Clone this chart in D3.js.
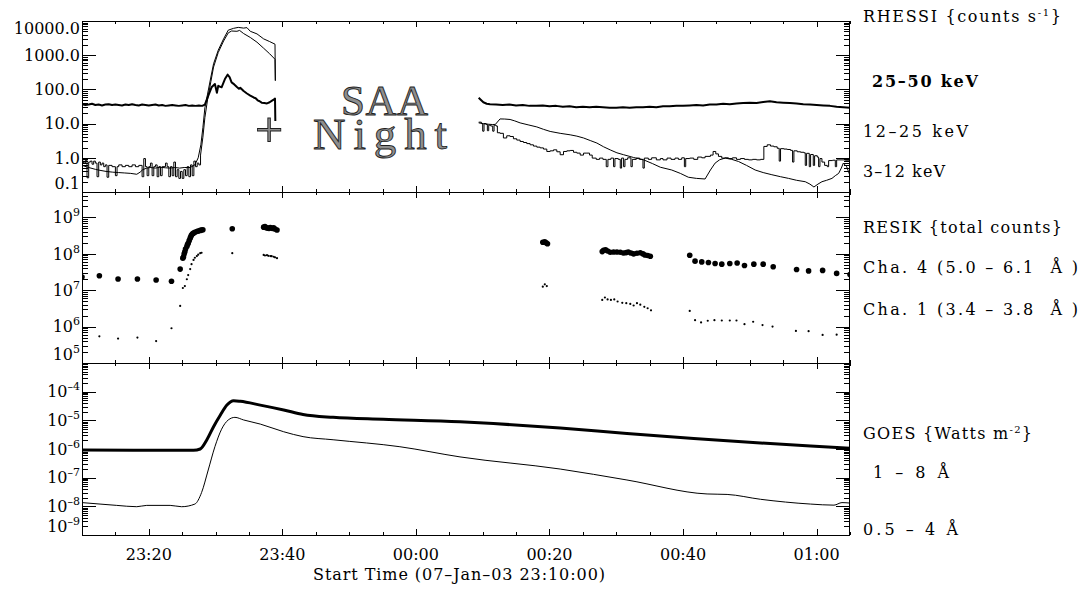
<!DOCTYPE html>
<html>
<head>
<meta charset="utf-8">
<script src="https://cdn.jsdelivr.net/npm/d3@7"></script>
<style>
  html, body { margin: 0; padding: 0; background: #fff; }
  svg { display: block; }
  text { font-family: "DejaVu Serif", serif; fill: #000; white-space: pre; }
  text.outlined { font-family: "Liberation Serif", serif; fill: #8c8c8c; stroke: #1a1a1a;
                  stroke-width: 0.9px; opacity: 0.98; }
</style>
</head>
<body>
<svg id="chart" width="1088" height="590"></svg>
<script>
// ---------------------------------------------------------------
// Data: time is given in minutes after 2003-01-07 23:10:00 UT
// ---------------------------------------------------------------

// RHESSI count rates (counts s^-1), before the SAA / night gap and after it
const rhessi2550Pre = [
  [0,37],[0.5,35],[1,36],[1.5,38],[2,35],[2.5,36],[3,34],[3.5,36],[4,37],[4.5,35],[5,36],[5.5,35],
  [6,34],[6.5,36],[7,35],[7.5,37],[8,35],[8.5,34],[9,36],[9.5,35],[10,34],[10.5,35],[11,36],[11.5,34],
  [12,35],[12.5,33],[13,34],[13.5,35],[14,34],[14.5,33],[15,34],[15.5,35],[16,33],[16.5,34],[17,33],
  [17.5,34],[18,33],[18.4,36],[18.9,65],[19.4,115],[19.9,144],[20.2,80],[20.4,127],[20.9,115],
  [21.4,200],[21.8,270],[22.1,230],[22.4,160],[22.8,140],[23.2,118],[23.5,105],[23.7,112],[24.2,90],
  [24.7,76],[25.2,66],[25.7,58],[26.0,55],[26.3,48],[26.6,45],[26.9,41],[27.3,40],[27.7,39],[28.1,42],
  [28.4,46],[28.7,50],[28.9,54],[28.95,12]
];
const rhessi2550Post = [
  [59.4,57],[59.7,50],[60.1,42],[60.6,38],[61.1,37],[62,36],[63,35],[64,36],[65,34],[66,35],[67,33],
  [68,33],[69,34],[70,32],[71,33],[72,31],[73,32],[74,30],[75,31],[76,30],[77,31],[78,30],[79,29],
  [80,29],[81,30],[82,29],[83,30],[84,30],[85,31],[86,30],[87,32],[88,32],[89,33],[90,33],[91,34],
  [92,35],[93,34],[94,36],[95,36],[96,38],[97,37],[98,39],[99,40],[100,41],[101,40],[102,43],[103,45],
  [104,42],[105,41],[106,40],[107,39],[108,37],[109,36],[110,35],[111,34],[112,33],[113,31],[114,30],
  [115,29]
];

// 12-25 keV: binned (histogram) rates, a smooth flare rise, then binned again
const rhessi1225Pre = [
  [0,0.8],[0.25,0.7],[0.5,0.85],[0.75,0.26],[1,0.75],[1.25,0.8],[1.5,0.65],[1.75,0.8],[2,0.7],
  [2.25,0.28],[2.5,0.75],[2.75,0.62],[3,0.7],[3.25,0.55],[3.5,0.62],[3.75,0.27],[4,0.6],[4.5,0.55],
  [5,0.3],[5.25,0.55],[5.5,0.62],[6,0.55],[6.5,0.6],[7,0.55],[7.5,0.62],[8,0.55],[8.5,0.6],[9,0.28],
  [9.25,0.95],[9.5,0.55],[9.75,0.3],[10,0.55],[10.25,0.7],[10.5,0.3],[10.75,0.55],[11,0.62],
  [11.25,0.28],[11.5,0.55],[11.75,0.3],[12,0.55],[12.5,0.7],[12.75,0.55],[13,0.28],[13.25,0.55],
  [13.5,0.3],[13.75,0.75],[14,0.28],[14.25,0.45],[14.5,0.25],[14.75,0.4],[15,0.25],[15.25,0.45],
  [15.5,0.3],[15.75,0.55],[16,0.28],[16.25,0.62],[16.5,0.3],[16.75,0.8],[17,0.55],[17.25,0.7],
  [17.5,0.62],[17.75,1.2]
];
const rhessi1225Flare = [
  [17.75,1.2],[18.1,4],[18.4,15],[18.8,50],[19.3,170],[19.7,450],[20.4,1200],[21.2,2600],[21.9,4500],
  [22.4,5100],[23.2,5000],[23.6,5300],[24.2,4300],[25.2,3300],[26.2,2400],[27.2,1600],[28.1,1100],
  [28.9,760],[28.95,180]
];
const rhessi1225Post = [
  [59.4,11],[59.8,10],[60,6],[60.2,10],[60.5,9.5],[60.7,6.2],[60.9,9],[61.2,8.5],[61.5,6],[61.7,9],
  [62,8.5],[62.2,5.4],[62.6,5.2],[63.1,3.8],[63.6,4.4],[64.1,4.2],[64.6,3.6],[65.1,3.3],[65.6,3.0],
  [66.1,2.8],[66.6,2.6],[67.1,2.4],[67.6,2.2],[68.1,2.05],[68.6,1.95],[69.1,1.8],[69.6,1.53],[70.1,1.6],
  [70.6,1.71],[71.1,1.5],[71.6,1.23],[72.1,1.53],[72.6,1.6],[73.1,1.64],[73.6,1.45],[74.1,1.37],
  [74.6,1.2],[75.1,1.37],[75.6,1.37],[76,1.2],[76.4,0.98],[77,0.9],[77.5,0.98],[78,0.9],[78.5,0.55],
  [78.75,0.9],[79.2,0.98],[79.6,0.55],[79.8,0.95],[80.3,0.9],[80.6,0.5],[80.8,0.98],[81.1,0.55],
  [81.3,0.9],[81.7,1.0],[82.2,0.55],[82.4,0.9],[83,0.98],[83.5,0.9],[84,0.5],[84.2,0.98],[84.8,0.9],
  [85.3,1.0],[86,0.87],[86.6,0.95],[87,0.87],[87.6,0.98],[88.2,0.9],[88.8,0.98],[89.3,0.9],[89.8,1.0],
  [90.2,0.55],[90.4,0.95],[91,0.98],[91.6,0.9],[92.2,1.05],[92.8,1.0],[93.3,1.1],[94.1,1.2],
  [94.5,1.53],[94.9,1.3],[95.3,1.1],[95.8,0.98],[96.3,1.0],[96.8,0.95],[97.4,1.0],[98,0.9],
  [98.6,0.95],[99.2,0.9],[99.8,0.87],[100.4,0.9],[101,0.87],[101.6,0.9],[102.1,2.15],[102.6,2.4],
  [103.1,2.2],[103.6,2.1],[104.1,1.9],[104.4,0.8],[104.6,1.85],[105.1,1.8],[105.6,1.75],[106.1,1.65],
  [106.4,0.75],[106.6,1.6],[107.1,1.5],[107.6,1.45],[108.1,1.4],[108.3,0.6],[108.5,1.35],[108.9,0.55],
  [109.1,1.25],[109.5,0.6],[109.7,1.15],[110.1,1.05],[110.3,0.55],[110.5,0.95],[110.8,0.75],
  [111.2,0.6],[111.6,0.55],[111.8,0.83],[112.4,0.85],[112.8,0.55],[113,0.87],[113.8,0.87],
  [114.3,0.85],[115,0.87]
];

// 3-12 keV: smooth rates
const rhessi312Pre = [
  [0,0.6],[1,0.52],[2,0.46],[2.7,0.43],[3.6,0.40],[4.6,0.38],[5.5,0.37],[6.4,0.36],[7.3,0.35],
  [8.2,0.33],[8.7,0.38],[9.1,0.45],[9.7,0.5],[10.2,0.52],[11,0.5],[11.7,0.53],[12.5,0.51],[13.2,0.5],
  [13.9,0.52],[14.6,0.5],[15.3,0.52],[16.2,0.52],[16.9,0.62],[17.4,1.0],[17.8,2.4],[18.1,7.6],
  [18.4,29],[18.8,73],[19.3,230],[19.7,560],[20.4,1400],[21.2,3000],[21.9,5400],[22.7,6100],
  [23.4,6500],[24.2,6200],[24.7,6400],[25.2,5000],[26.2,4200],[27.2,3000],[28.1,2500],[28.9,2100],
  [28.95,180]
];
const rhessi312Post = [
  [59.4,10.5],[60.1,10],[60.8,9.6],[61.5,9.4],[61.9,9.5],[62.6,13.7],[63.3,13.6],[64.1,13.2],
  [64.8,12],[65.6,10.5],[66.8,9.2],[68.1,8],[69.1,6.8],[70.1,5.9],[71.6,5.2],[73.1,4.7],[74.1,4.3],
  [75.1,3.8],[76.1,3.2],[77.1,2.7],[78.1,2.1],[79.1,1.7],[80.1,1.4],[81.1,1.23],[82.6,1.02],
  [84.1,0.87],[85.4,0.68],[86.6,0.53],[88.3,0.44],[89.6,0.35],[90.8,0.27],[92,0.25],[93.3,0.24],
  [94.1,0.44],[94.8,0.70],[95.5,0.88],[96.3,0.98],[97.3,0.9],[98.3,0.78],[99.5,0.6],[100.8,0.44],
  [102,0.37],[103.3,0.32],[104.6,0.28],[105.8,0.25],[107,0.22],[108.3,0.20],[109,0.17],[109.6,0.14],
  [110.2,0.17],[110.8,0.2],[111.5,0.22],[112.3,0.25],[112.8,0.3],[113.3,0.35],[113.7,0.5],[114,0.7],
  [114.5,0.55],[115,0.3]
];

// RESIK total counts
const resikCh4 = [
  [0,2.3e7],[2.6,2.5e7],[5.4,2.04e7],[8.3,2.04e7],[11.1,1.9e7],[13.4,1.76e7],[14.7,3.8e7],[15.1,7.6e7],
  [15.2,8.3e7],[15.3,1.0e8],[15.4,1.14e8],[15.5,1.35e8],[15.7,1.58e8],[15.8,1.8e8],[15.9,1.95e8],
  [16.05,2.3e8],[16.2,2.7e8],[16.3,3.0e8],[16.4,3.3e8],[16.55,3.55e8],[16.7,3.7e8],[16.9,3.9e8],
  [17.2,4.1e8],[17.4,4.25e8],[17.7,4.4e8],[17.9,4.5e8],[18.1,4.6e8],[22.5,4.9e8],
  [27.2,5.4e8],[27.4,5.6e8],[27.6,5.2e8],[27.8,5.1e8],[28.0,5.0e8],[28.2,5.3e8],[28.5,5.0e8],
  [28.7,5.2e8],[28.9,4.8e8],[29.2,4.5e8],
  [69.0,2.09e8],[69.3,2.15e8],[69.5,2.0e8],[69.7,1.9e8],
  [77.9,1.15e8],[78.1,1.25e8],[78.4,1.29e8],[78.7,1.2e8],[79.1,1.1e8],[79.6,1.12e8],[80.1,1.12e8],
  [80.6,1.1e8],[81.1,1.05e8],[81.5,1.08e8],[81.8,1.12e8],[82.2,1.05e8],[82.6,1.0e8],[83.1,1.04e8],
  [83.6,1.07e8],[84.0,1.0e8],[84.3,9.3e7],[84.7,9.0e7],[85.1,8.6e7],
  [91.0,9.1e7],[91.8,6.3e7],[92.8,6.0e7],[93.8,5.8e7],[94.8,5.4e7],[95.8,5.2e7],[97.0,5.4e7],
  [98.1,5.6e7],[99.2,4.8e7],[100.6,5.2e7],[102.0,5.2e7],[103.5,4.4e7],[107.0,3.7e7],[108.8,3.4e7],
  [110.9,3.5e7],[113.0,2.9e7],[115.0,2.7e7]
];
const resikCh1 = [
  [2.6,5.4e5],[5.4,4.7e5],[8.3,5.0e5],[11.1,4.0e5],[13.4,9.0e5],[14.7,3.7e6],[15.1,1.15e7],[15.4,1.3e7],
  [15.7,2.0e7],[15.9,2.6e7],[16.2,3.8e7],[16.4,5.2e7],[16.7,6.8e7],[16.9,7.8e7],[17.2,8.7e7],
  [17.4,9.5e7],[17.7,1.04e8],[17.9,1.07e8],[22.5,1.04e8],
  [27.2,9.3e7],[27.4,9.0e7],[27.7,9.2e7],[27.9,8.8e7],[28.2,8.7e7],[28.4,8.6e7],[28.7,8.3e7],
  [28.9,8.0e7],[29.2,7.6e7],
  [69.0,1.25e7],[69.3,1.45e7],[69.6,1.3e7],
  [77.9,5.4e6],[78.3,6.3e6],[78.7,5.6e6],[79.2,5.4e6],[79.7,5.6e6],[80.2,4.9e6],[80.9,4.5e6],
  [81.5,4.4e6],[82.1,4.2e6],[82.6,3.8e6],[83.1,4.4e6],[83.6,4.0e6],[84.2,3.5e6],[84.7,3.2e6],
  [85.2,2.8e6],
  [91.0,2.7e6],[91.8,1.5e6],[92.7,1.3e6],[93.7,1.45e6],[94.7,1.5e6],[95.8,1.47e6],[97.0,1.47e6],
  [98.0,1.47e6],[99.2,1.17e6],[100.5,1.36e6],[101.9,1.1e6],[103.4,1.0e6],[106.9,7.6e5],[108.8,7.5e5],
  [110.9,5.9e5],[113.0,6.0e5]
];

// GOES flux (W m^-2)
const goes18 = [
  [0,9.2e-7],[7.7,9.0e-7],[16.7,9.0e-7],[17.7,1.0e-6],[18.7,2.1e-6],[19.7,6.0e-6],[20.7,1.5e-5],
  [21.7,3.4e-5],[22.7,4.8e-5],[23.7,4.6e-5],[26.7,3.4e-5],[30.2,2.3e-5],[33.1,1.6e-5],[37.6,1.27e-5],
  [45.1,1.09e-5],[56.6,8.95e-6],[61.6,7.75e-6],[71.6,5.4e-6],[81.6,3.47e-6],[91.6,2.32e-6],
  [101.6,1.62e-6],[109.1,1.27e-6],[115,1.06e-6]
];
const goes054 = [
  [0,1.35e-8],[2.7,1.2e-8],[5.2,1.08e-8],[8.2,9.7e-9],[9.7,1.08e-8],[13.2,1.08e-8],[14.9,9.7e-9],
  [16.9,1.2e-8],[17.9,3.0e-8],[18.9,1.85e-7],[19.9,1.2e-6],[20.9,4.9e-6],[21.9,1.03e-5],[22.9,1.27e-5],
  [24.2,1.03e-5],[26.7,7.4e-6],[30.2,4.0e-6],[33.1,2.7e-6],[37.6,2.1e-6],[47.6,1.2e-6],[56.6,5.3e-7],
  [71.6,2.0e-7],[81.6,8.3e-8],[93.6,2.7e-8],[96.6,2.6e-8],[101.6,1.76e-8],[109.1,1.2e-8],
  [112.6,1.1e-8],[113.8,1.35e-8],[115,1.3e-8]
];

// Axis tick labels
const rhessiTickValues = [0.1, 1, 10, 100, 1000, 10000];
const resikTickValues = [1e5, 1e6, 1e7, 1e8, 1e9];
const goesTickValues = [1e-9, 1e-8, 1e-7, 1e-6, 1e-5, 1e-4];
const timeTickFormat = "%H:%M";
const xAxisTitle = "Start Time (07\u2013Jan\u201303 23:10:00)";

// ---------------------------------------------------------------
// Layout
// ---------------------------------------------------------------
const svg = d3.select("#chart");
const X0 = 82, X1 = 850;
const t0 = new Date(Date.UTC(2003, 0, 7, 23, 10, 0));
const t1 = new Date(Date.UTC(2003, 0, 8, 1, 5, 0));
const at = m => new Date(t0.getTime() + m * 60000);
const x = d3.scaleUtc().domain([t0, t1]).range([X0, X1]);

const panels = [
  { id: "rhessi", top: 21, bottom: 192, y: d3.scaleLog().domain([0.1, 1e4]).range([192, 21]),
    ticks: rhessiTickValues, fmt: "fixed" },
  { id: "resik", top: 192, bottom: 363, y: d3.scaleLog().domain([1e5, 5e9]).range([363, 192]),
    ticks: resikTickValues, fmt: "pow" },
  { id: "goes", top: 363, bottom: 535, y: d3.scaleLog().domain([1e-9, 1e-3]).range([535, 363]),
    ticks: goesTickValues, fmt: "pow" }
];

const majorTimes = x.ticks(d3.utcMinute.every(20));
const minorTimes = x.ticks(d3.utcMinute.every(5));

function drawFrame(p) {
  const g = svg.append("g").attr("shape-rendering", "crispEdges")
    .attr("stroke", "#000").attr("stroke-width", 1);
  // time ticks on top and bottom edges
  minorTimes.forEach(t => {
    const isMajor = t.getUTCMinutes() % 20 === 0;
    const len = isMajor ? 6 : 3;
    const xx = Math.round(x(t)) + 0.5;
    g.append("line").attr("x1", xx).attr("x2", xx).attr("y1", p.top).attr("y2", p.top + len);
    g.append("line").attr("x1", xx).attr("x2", xx).attr("y1", p.bottom).attr("y2", p.bottom - len);
  });
  // logarithmic value ticks on left and right edges
  const [lo, hi] = p.y.domain();
  for (let e = Math.floor(Math.log10(lo)); e <= Math.ceil(Math.log10(hi)); e++) {
    for (let k = 1; k <= 9; k++) {
      const v = k * Math.pow(10, e);
      if (v < lo * 0.999 || v > hi * 1.001) continue;
      const yy = Math.round(p.y(v)) + 0.5;
      const len = k === 1 ? 14 : 6;
      g.append("line").attr("x1", X0).attr("x2", X0 + len).attr("y1", yy).attr("y2", yy);
      g.append("line").attr("x1", X1).attr("x2", X1 - len).attr("y1", yy).attr("y2", yy);
    }
  }
  g.append("rect").attr("x", X0 + 0.5).attr("y", p.top + 0.5)
    .attr("width", X1 - X0 - 1).attr("height", p.bottom - p.top)
    .attr("fill", "none");

  // value labels
  p.ticks.forEach(v => {
    let c = p.y(v);
    c = Math.max(c, p.top + 6.7);
    c = Math.min(c, p.bottom - 9.3);
    const t = svg.append("text").attr("x", 80).attr("y", c + 5.8)
      .attr("text-anchor", "end").attr("font-size", 16);
    if (p.fmt === "fixed") {
      t.text(d3.format(".1f")(v));
    } else {
      const e = Math.round(Math.log10(v));
      t.append("tspan").text("10");
      t.append("tspan").attr("dy", -7).attr("font-size", 11)
        .text(e < 0 ? "\u2013" + Math.abs(e) : String(e));
    }
  });
}

panels.forEach(drawFrame);

// clip regions per panel
const defs = svg.append("defs");
panels.forEach(p => {
  defs.append("clipPath").attr("id", "clip-" + p.id)
    .append("rect").attr("x", X0).attr("y", p.top)
    .attr("width", X1 - X0).attr("height", p.bottom - p.top);
});

function series(p, data, curve, width) {
  const gen = d3.line().x(d => x(at(d[0]))).y(d => p.y(d[1])).curve(curve);
  svg.append("path").attr("clip-path", "url(#clip-" + p.id + ")")
    .attr("d", gen(data)).attr("fill", "none").attr("stroke", "#000")
    .attr("stroke-width", width).attr("stroke-linejoin", "round");
}

// RHESSI panel
const pR = panels[0];
series(pR, rhessi312Pre, d3.curveLinear, 1);
series(pR, rhessi312Post, d3.curveLinear, 1);
series(pR, rhessi1225Pre, d3.curveStepAfter, 1);
series(pR, rhessi1225Flare, d3.curveLinear, 1);
series(pR, rhessi1225Post, d3.curveStepAfter, 1);
series(pR, rhessi2550Pre, d3.curveLinear, 2);
series(pR, rhessi2550Post, d3.curveLinear, 2);

// SAA / night annotation in outlined serif lettering (one text block, three pieces)
const note = svg.append("text").attr("class", "outlined");
note.append("tspan").attr("x", 341).attr("y", 115).attr("font-size", 43)
  .attr("letter-spacing", 0.5).text("SAA");
note.append("tspan").attr("x", 255).attr("y", 147).attr("font-size", 50).text("+");
note.append("tspan").attr("x", 313).attr("y", 149).attr("font-size", 45)
  .attr("letter-spacing", 7.9).text("Night");

// RESIK panel
const pS = panels[1];
const gS = svg.append("g").attr("clip-path", "url(#clip-resik)");
gS.selectAll("circle.ch4").data(resikCh4).join("circle").attr("class", "ch4")
  .attr("cx", d => x(at(d[0]))).attr("cy", d => pS.y(d[1])).attr("r", 2.8).attr("fill", "#000");
gS.selectAll("circle.ch1").data(resikCh1).join("circle").attr("class", "ch1")
  .attr("cx", d => x(at(d[0]))).attr("cy", d => pS.y(d[1])).attr("r", 1.1).attr("fill", "#000");

// GOES panel
const pG = panels[2];
series(pG, goes054, d3.curveMonotoneX, 1);
series(pG, goes18, d3.curveMonotoneX, 3);

// time labels
majorTimes.forEach(t => {
  svg.append("text").attr("x", x(t)).attr("y", 559.5).attr("text-anchor", "middle")
    .attr("font-size", 16).text(d3.utcFormat(timeTickFormat)(t));
});
svg.append("text").attr("x", 313).attr("y", 580).attr("font-size", 16)
  .attr("textLength", 292).attr("lengthAdjust", "spacing").text(xAxisTitle);

// right-hand legend text
function legend(xp, yp, len, parts, bold) {
  const t = svg.append("text").attr("x", xp).attr("y", yp).attr("font-size", 16)
    .attr("textLength", len).attr("lengthAdjust", "spacing");
  if (bold) t.attr("font-weight", "bold");
  parts.forEach(pt => {
    const s = t.append("tspan").text(pt.s);
    if (pt.sup) s.attr("dy", -6).attr("font-size", 10);
    if (pt.back) s.attr("dy", 6);
  });
}
legend(863, 22, 198, [{ s: "RHESSI {counts s" }, { s: "-1", sup: true }, { s: "}", back: true }]);
legend(872, 87, 106, [{ s: "25\u201350 keV" }], true);
legend(863, 137, 105, [{ s: "12\u201325 keV" }]);
legend(863, 177, 82, [{ s: "3\u201312 keV" }]);
legend(863, 233, 199, [{ s: "RESIK {total counts}" }]);
legend(863, 273, 215, [{ s: "Cha. 4 (5.0 \u2013 6.1  \u00c5 )" }]);
legend(863, 315, 215, [{ s: "Cha. 1 (3.4 \u2013 3.8  \u00c5 )" }]);
legend(863, 439, 169, [{ s: "GOES {Watts m" }, { s: "-2", sup: true }, { s: "}", back: true }]);
legend(873, 478, 76, [{ s: "1 \u2013 8 \u00c5" }]);
legend(863, 535, 95, [{ s: "0.5 \u2013 4 \u00c5" }]);
</script>
</body>
</html>
